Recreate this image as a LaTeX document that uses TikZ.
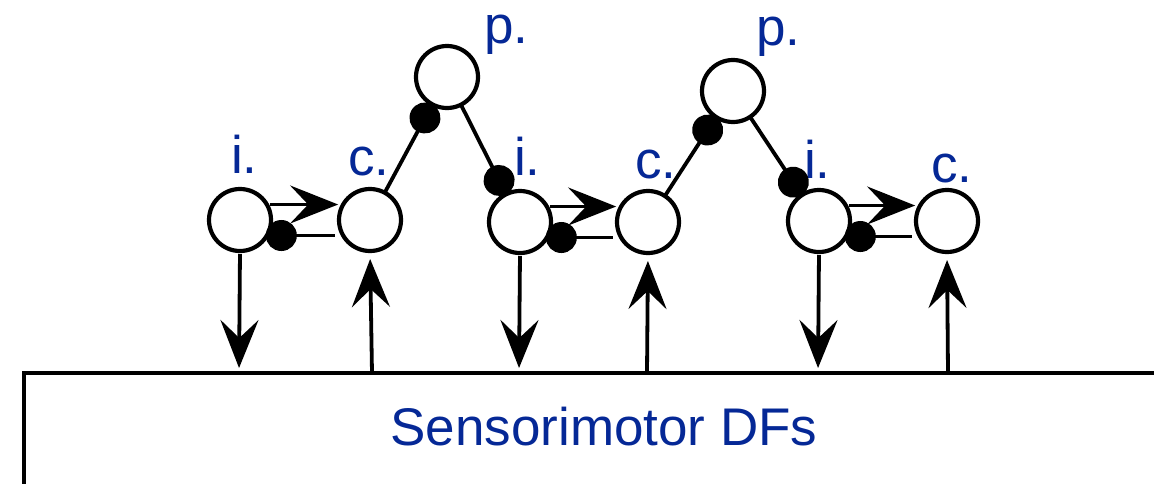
\documentclass[tikz,border=0pt]{standalone}
\usepackage{fontspec}
\setmainfont{Liberation Sans}
\usetikzlibrary{arrows.meta}
\definecolor{lblue}{RGB}{5,40,150}
\begin{document}
\begin{tikzpicture}[x=1pt,y=-1pt,
  unit/.style={circle,draw,line width=4.2pt,minimum size=62pt,inner sep=0pt,outer sep=0pt},
  lab/.style={text=lblue,font=\fontsize{53}{60}\selectfont,inner sep=0pt,anchor=base west},
  conn/.style={line width=3.8pt},
  big/.style={-{Stealth[length=48pt,width=38pt,inset=18pt]}},
  dotend/.style={-{Circle[length=31pt]}},
  dotstart/.style={{Circle[length=31pt]}-},
]
\useasboundingbox (0,0) rectangle (1154,483);

% units
\node[unit] (i1) at (240,220) {};
\node[unit] (c1) at (370,220) {};
\node[unit] (p1) at (447,77) {};
\node[unit] (i2) at (520,222) {};
\node[unit] (c2) at (648,222) {};
\node[unit] (p2) at (733,91) {};
\node[unit] (i3) at (819,221) {};
\node[unit] (c3) at (947,221) {};

% labels
\node[lab] (li1) at (231,173) {i.};
\node[lab] (lc1) at (348,175) {c.};
\node[lab] (lp1) at (484,43) {p.};
\node[lab] (li2) at (514,175) {i.};
\node[lab] (lc2) at (635,178) {c.};
\node[lab] (lp2) at (756,45) {p.};
\node[lab] (li3) at (804,178) {i.};
\node[lab] (lc3) at (931,182) {c.};

% sensorimotor field
\draw[line width=4.2pt] (24,490) -- (24,373) -- (1160,373);
\node[text=lblue,font=\fontsize{53}{60}\selectfont,inner sep=0pt,anchor=base] (sm) at (604,445) {Sensorimotor DFs};

\coordinate (bd1) at (239,373);
\coordinate (bu1) at (372,373);
\coordinate (bd2) at (519,373);
\coordinate (bu2) at (647,373);
\coordinate (bd3) at (818,373);
\coordinate (bu3) at (948,373);

% i -> c excitatory and inhibitory
\foreach \a/\b in {i1/c1,i2/c2,i3/c3}{
  \draw[conn,big,shorten <=3pt,shorten >=5pt] (\a.30) -- (\b.150);
  \draw[conn,dotstart,shorten <=-1pt,shorten >=8pt] (\a.-30) -- (\b.-150);
}

% c -> p and p -> i
\draw[conn,dotend] (c1) -- (p1);
\draw[conn,dotend] (p1) -- (i2);
\draw[conn,dotend] (c2) -- (p2);
\draw[conn,dotend] (p2) -- (i3);

% coupling to sensorimotor DFs
\foreach \n/\k in {i1/bd1,i2/bd2,i3/bd3}{
  \draw[conn,big,shorten <=3pt,shorten >=5pt] (\n.south) -- (\k);
}
\foreach \n/\k in {c1/bu1,c2/bu2,c3/bu3}{
  \draw[conn,big,shorten >=8pt] (\k) -- (\n.south);
}
\end{tikzpicture}
\end{document}
